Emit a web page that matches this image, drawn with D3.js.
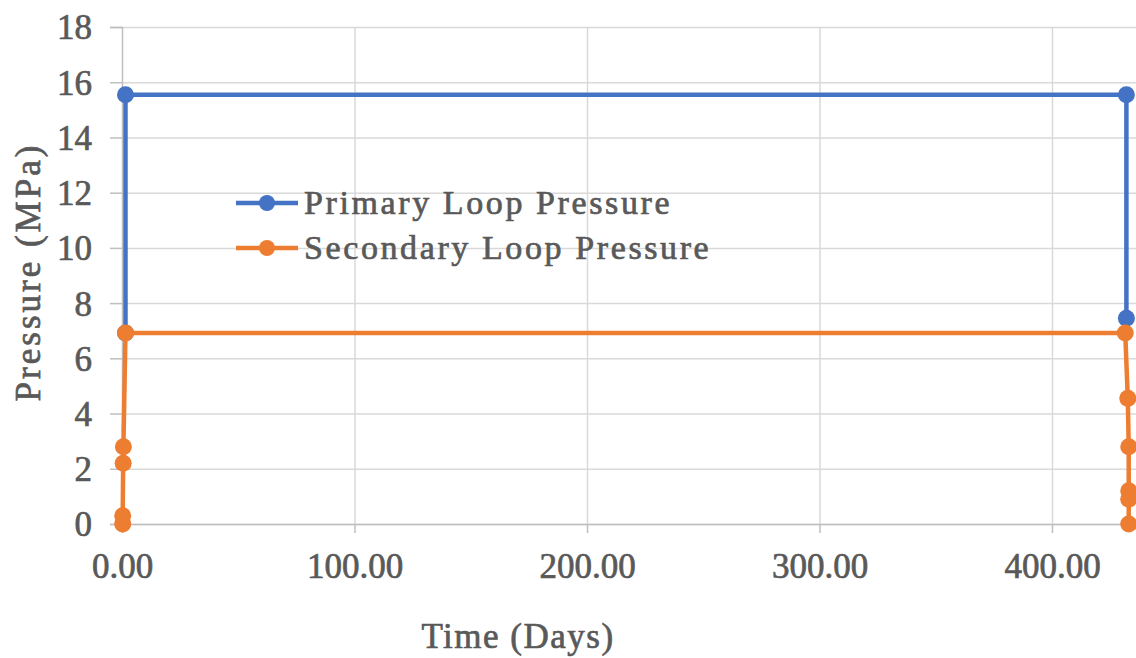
<!DOCTYPE html>
<html>
<head>
<meta charset="utf-8">
<script src="https://cdn.jsdelivr.net/npm/d3@7"></script>
<style>
  body { margin: 0; background: #fff; }
  svg text {
    font-family: "Liberation Serif", "Times New Roman", serif;
    fill: #595959;
    stroke: #595959;
    stroke-width: 0.7px;
  }
</style>
</head>
<body>
<svg id="chart" width="1136" height="658"></svg>
<script>
// data
const primaryDays = [1.5, 1.5, 432, 432];
const primaryPressure = [6.92, 15.55, 15.55, 7.45];
const secondaryDays = [0.3, 0.3, 0.5, 0.6, 1.5, 431.5, 432.6, 433, 433, 433, 433];
const secondaryPressure = [0, 0.3, 2.2, 2.8, 6.92, 6.92, 4.55, 2.8, 1.2, 0.9, 0];
const xTicks = [0, 100, 200, 300, 400];
const yTicks = [0, 2, 4, 6, 8, 10, 12, 14, 16, 18];
const seriesNames = ["Primary Loop Pressure", "Secondary Loop Pressure"];

const svg = d3.select("#chart");
const margin = { top: 27, left: 122 };
const plotBottom = 524;
const pxPerDay = 2.325;

const xScale = d3.scaleLinear().domain([0, 450]).range([margin.left, margin.left + 450 * pxPerDay]);
const yScale = d3.scaleLinear().domain([0, 18]).range([plotBottom, margin.top]);
const color = d3.scaleOrdinal().domain(seriesNames).range(["#4472C4", "#ED7D31"]);

const series = [
    { name: seriesNames[0], values: primaryDays.map((d, i) => ({ day: d, p: primaryPressure[i] })) },
    { name: seriesNames[1], values: secondaryDays.map((d, i) => ({ day: d, p: secondaryPressure[i] })) }
];

// gridlines
svg.append("g")
    .attr("transform", `translate(${margin.left},0)`)
    .call(d3.axisLeft(yScale).tickValues(yTicks).tickSize(-(1136 - margin.left)).tickFormat(""))
    .call(g => g.select(".domain").remove())
    .call(g => g.selectAll("line").attr("stroke", "#d9d9d9").attr("stroke-width", 1.5));

svg.append("g")
    .attr("transform", `translate(0,${plotBottom})`)
    .call(d3.axisBottom(xScale).tickValues(xTicks.slice(1)).tickSize(-(plotBottom - margin.top)).tickFormat(""))
    .call(g => g.select(".domain").remove())
    .call(g => g.selectAll("line").attr("stroke", "#d9d9d9").attr("stroke-width", 1.5));

// y axis
const yAxis = svg.append("g")
    .attr("transform", `translate(${margin.left},0)`)
    .call(d3.axisLeft(yScale).tickValues(yTicks).tickSize(12).tickPadding(18).tickFormat(d3.format("d")));
yAxis.select(".domain").attr("stroke", "#bfbfbf").attr("stroke-width", 1.5);
yAxis.selectAll(".tick line").attr("stroke", "#bfbfbf").attr("stroke-width", 1.5);
yAxis.selectAll(".tick text").attr("font-size", 35).attr("dy", "0.34em");

// x axis
const xAxis = svg.append("g")
    .attr("transform", `translate(0,${plotBottom})`)
    .call(d3.axisBottom(xScale).tickValues(xTicks).tickSize(9).tickPadding(20).tickFormat(d3.format(".2f")));
xAxis.select(".domain").attr("stroke", "#bfbfbf").attr("stroke-width", 1.5);
xAxis.selectAll(".tick line").attr("stroke", "#bfbfbf").attr("stroke-width", 1.5);
xAxis.selectAll(".tick text").attr("font-size", 35).attr("dy", "0.71em");

// axis titles
svg.append("text")
    .attr("x", 518).attr("y", 648)
    .attr("text-anchor", "middle")
    .attr("font-size", 35).attr("letter-spacing", 1.5)
    .text("Time (Days)");

svg.append("text")
    .attr("transform", "translate(40,272) rotate(-90)")
    .attr("text-anchor", "middle")
    .attr("font-size", 35).attr("letter-spacing", 3)
    .text("Pressure (MPa)");

// lines and markers
const line = d3.line().x(d => xScale(d.day)).y(d => yScale(d.p));

const seriesG = svg.selectAll(".series")
    .data(series)
    .enter().append("g")
    .attr("class", "series");

seriesG.append("path")
    .attr("fill", "none")
    .attr("stroke", d => color(d.name))
    .attr("stroke-width", 4.5)
    .attr("stroke-linejoin", "round")
    .attr("d", d => line(d.values));

seriesG.selectAll("circle")
    .data(d => d.values.map(v => ({ ...v, name: d.name })))
    .enter().append("circle")
    .attr("cx", d => xScale(d.day))
    .attr("cy", d => yScale(d.p))
    .attr("r", 8.5)
    .attr("fill", d => color(d.name));

// legend
const legend = svg.append("g")
    .selectAll("g")
    .data(seriesNames)
    .enter().append("g")
    .attr("transform", (d, i) => `translate(236,${203 + i * 45})`);

legend.append("line")
    .attr("x1", 0).attr("x2", 62)
    .attr("stroke", d => color(d))
    .attr("stroke-width", 4.5);

legend.append("circle")
    .attr("cx", 31).attr("r", 8)
    .attr("fill", d => color(d));

legend.append("text")
    .attr("x", 68).attr("y", 11)
    .attr("font-size", 34).attr("letter-spacing", 2.6)
    .text(d => d);
</script>
</body>
</html>
